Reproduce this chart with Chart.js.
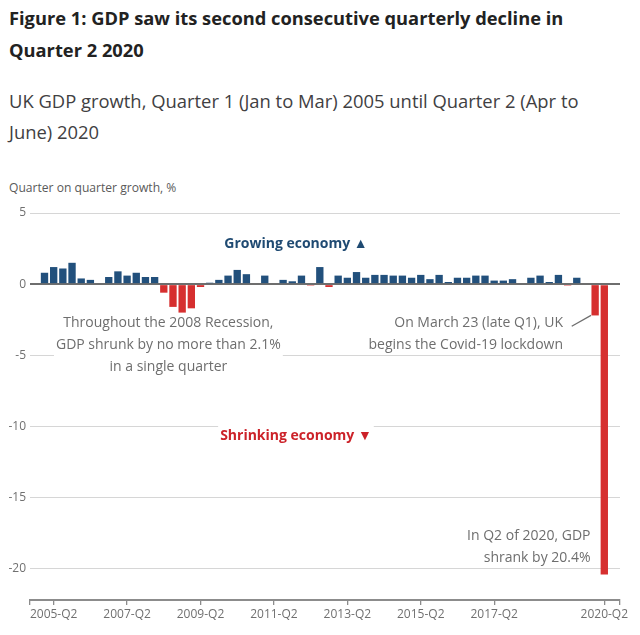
<!DOCTYPE html>
<html>
<head>
<meta charset="utf-8">
<script src="https://cdn.jsdelivr.net/npm/chart.js@4.4.1/dist/chart.umd.min.js"></script>
<style>
  body { margin: 0; background: #fff; width: 640px; height: 635px; overflow: hidden; font-family: "Open Sans", sans-serif; }
  #title { position: absolute; left: 9px; top: 2px; font-size: 18.3px; font-weight: 700; line-height: 32px; color: #222; white-space: nowrap; }
  #subtitle { position: absolute; left: 9px; top: 85px; font-size: 18.4px; line-height: 31px; color: #414042; white-space: nowrap; }
  #ylabel { position: absolute; left: 9px; top: 179px; font-size: 12.1px; line-height: 18px; color: #5a5a5a; }
  #wrap { position: absolute; left: 0; top: 195px; width: 640px; height: 440px; }
</style>
</head>
<body>
<div id="title">Figure 1: GDP saw its second consecutive quarterly decline in<br>Quarter 2 2020</div>
<div id="subtitle">UK GDP growth, Quarter 1 (Jan to Mar) 2005 until Quarter 2 (Apr to<br>June) 2020</div>
<div id="ylabel">Quarter on quarter growth, %</div>
<div id="wrap"><canvas id="myChart" width="640" height="440"></canvas></div>
<script>
// quarter labels, 2005-Q1 .. 2020-Q2
var quarters = [];
for (var yr = 2005; yr <= 2020; yr++) {
    for (var q = 1; q <= 4; q++) quarters.push(yr + '-Q' + q);
}
quarters = quarters.slice(0, 62);

// quarter on quarter GDP growth, %
var gdpGrowth = [
    0.8, 1.2, 1.1, 1.5,     // 2005
    0.4, 0.3, 0.0, 0.5,     // 2006
    0.9, 0.6, 0.8, 0.5,     // 2007
    0.5, -0.6, -1.6, -2.0,  // 2008
    -1.7, -0.2, 0.1, 0.3,   // 2009
    0.6, 1.0, 0.7, 0.0,     // 2010
    0.6, 0.0, 0.3, 0.2,     // 2011
    0.6, -0.1, 1.2, -0.2,   // 2012
    0.6, 0.45, 0.85, 0.45,  // 2013
    0.65, 0.65, 0.6, 0.6,   // 2014
    0.45, 0.65, 0.35, 0.65, // 2015
    0.15, 0.45, 0.45, 0.6,  // 2016
    0.6, 0.25, 0.25, 0.35,  // 2017
    0.0, 0.45, 0.6, 0.15,   // 2018
    0.65, -0.1, 0.45, 0.0,  // 2019
    -2.2, -20.4             // 2020
];

var xTickLabels = ['2005-Q2', '2007-Q2', '2009-Q2', '2011-Q2', '2013-Q2', '2015-Q2', '2017-Q2', '2020-Q2'];
var yTickValues = [5, 0, -5, -10, -15, -20];

var BLUE = '#22507c';
var RED = '#d62f2f';
var GREY = '#6e6e6e';
var FONT = '"Open Sans", sans-serif';

// text notes, placed in data units
var notes = [
    { x: 27.4, y: 2.82, lines: ['Growing economy \u25B2'], align: 'center', color: '#1f4a72', bold: true },
    { x: 27.4, y: -10.68, lines: ['Shrinking economy \u25BC'], align: 'center', color: '#cc2229', bold: true, mask: true },
    { x: 13.5, y: -2.7, lines: ['Throughout the 2008 Recession,', 'GDP shrunk by no more than 2.1%', 'in a single quarter'], align: 'center', color: GREY, mask: true },
    { x: 56.5, y: -2.73, lines: ['On March 23 (late Q1), UK', 'begins the Covid-19 lockdown'], align: 'right', color: GREY },
    { x: 59.5, y: -17.68, lines: ['In Q2 of 2020, GDP', 'shrank by 20.4%'], align: 'right', color: GREY }
];

var notesPlugin = {
    id: 'notes',
    beforeDatasetsDraw: function (chart) {
        var c = chart.ctx, xs = chart.scales.x, ys = chart.scales.y;
        var lh = 22.3;
        notes.forEach(function (n) {
            c.save();
            c.font = (n.bold ? '700 ' : '400 ') + '14px ' + FONT;
            c.textAlign = n.align;
            c.textBaseline = 'middle';
            var px = xs.getPixelForValue(n.x), py = ys.getPixelForValue(n.y);
            if (n.mask) {
                var w = Math.max.apply(null, n.lines.map(function (l) { return c.measureText(l).width; }));
                var left = n.align === 'center' ? px - w / 2 : (n.align === 'right' ? px - w : px);
                c.fillStyle = '#fff';
                c.fillRect(left - 2, py - 11, w + 4, lh * (n.lines.length - 1) + 22);
            }
            c.fillStyle = n.color;
            n.lines.forEach(function (l, i) { c.fillText(l, px, py + i * lh); });
            c.restore();
        });
        // connector to the 2020-Q1 bar
        c.save();
        c.strokeStyle = GREY;
        c.lineWidth = 1.3;
        c.beginPath();
        c.moveTo(xs.getPixelForValue(57.45), ys.getPixelForValue(-2.96));
        c.lineTo(xs.getPixelForValue(59.55), ys.getPixelForValue(gdpGrowth[60]));
        c.stroke();
        c.restore();
    }
};

var ctx = document.getElementById('myChart');
var myChart = new Chart(ctx, {
    type: 'bar',
    data: {
        datasets: [{
            data: gdpGrowth.map(function (v, i) { return { x: i, y: v }; }),
            backgroundColor: function (c) { return c.raw && c.raw.y < 0 ? RED : BLUE; },
            categoryPercentage: 1,
            barPercentage: 0.8,
            borderWidth: 0
        }]
    },
    options: {
        responsive: false,
        animation: false,
        layout: { padding: { top: 18, right: 20, left: 0, bottom: 0 } },
        plugins: { legend: { display: false }, tooltip: { enabled: false } },
        scales: {
            x: {
                type: 'linear',
                min: -1.58,
                max: 62.71,
                offset: false,
                afterBuildTicks: function (s) {
                    var t = [{ value: s.min }];
                    xTickLabels.forEach(function (l) { t.push({ value: quarters.indexOf(l) }); });
                    t.push({ value: s.max });
                    s.ticks = t;
                },
                afterFit: function (s) { s.height = 35; },
                ticks: {
                    autoSkip: false,
                    maxRotation: 0,
                    padding: 2,
                    color: '#707070',
                    font: { family: FONT, size: 12 },
                    callback: function (v) {
                        var l = quarters[v];
                        return xTickLabels.indexOf(l) >= 0 ? l : '';
                    }
                },
                grid: { offset: false, drawOnChartArea: false, drawTicks: true, tickLength: 5, color: '#8c8c8c', lineWidth: 1.3 },
                border: { display: true, color: '#8c8c8c', width: 2 }
            },
            y: {
                min: -22.2,
                max: 5,
                afterBuildTicks: function (s) {
                    s.ticks = yTickValues.map(function (v) { return { value: v }; });
                },
                afterFit: function (s) { s.width = 30; },
                ticks: { padding: 4, color: '#707070', font: { family: FONT, size: 12 } },
                grid: {
                    drawTicks: false,
                    color: function (c) { return c.tick && c.tick.value === 0 ? '#6e6e6e' : '#d6d6d6'; },
                    lineWidth: function (c) { return c.tick && c.tick.value === 0 ? 2 : 1; }
                },
                border: { display: false }
            }
        }
    },
    plugins: [notesPlugin]
});
</script>
</body>
</html>
